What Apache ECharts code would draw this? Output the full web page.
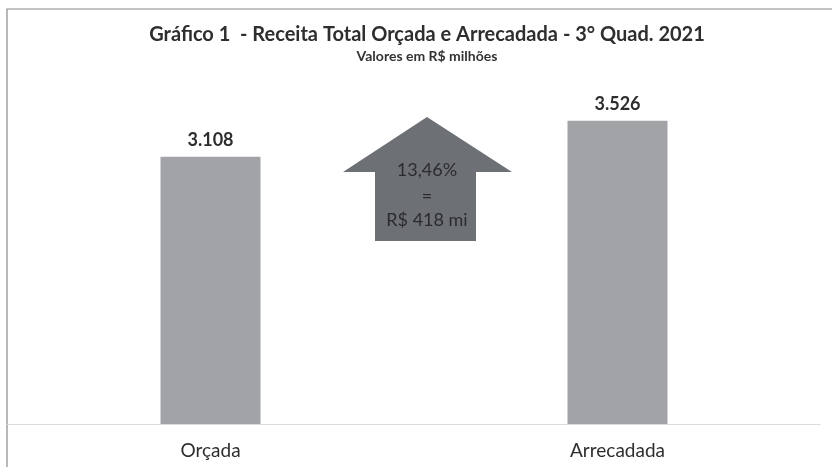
<!DOCTYPE html>
<html><head><meta charset="utf-8">
<script src="https://cdn.jsdelivr.net/npm/echarts@6/dist/echarts.min.js"></script>
<style>html,body{margin:0;padding:0;background:#fff}#c{width:832px;height:467px}</style>
</head><body><div id="c"></div>
<script>
const categories = ['Orçada', 'Arrecadada'];
const values = [3108, 3526];
const valueLabels = ['3.108', '3.526'];
const arrowText = ['13,46%', '=', 'R$ 418 mi'];

const chart = echarts.init(document.getElementById('c'));
const F = 'Lato, "Open Sans", sans-serif';
chart.setOption({
  animation: false,
  backgroundColor: '#fff',
  title: {
    text: 'Gráfico 1  - Receita Total Orçada e Arrecadada - 3° Quad. 2021',
    subtext: 'Valores em R$ milhões',
    left: 422, top: 20, textAlign: 'center', itemGap: 4,
    textStyle: { fontFamily: F, fontSize: 20, fontWeight: 'bold', color: '#2e2e2e' },
    subtextStyle: { fontFamily: F, fontSize: 14, fontWeight: 'bold', color: '#333' }
  },
  grid: { left: 7, right: 11, top: 80, bottom: 43 },
  xAxis: {
    type: 'category', data: categories,
    axisLine: { lineStyle: { color: '#d4d4d4', type: 'dotted', width: 1 } },
    axisTick: { show: false },
    axisLabel: { fontFamily: F, fontSize: 19, color: '#2e2e2e', margin: 17 }
  },
  yAxis: { type: 'value', min: 0, max: 4000, show: false, splitLine: { show: false } },
  series: [{
    type: 'bar', data: values, barWidth: 100,
    itemStyle: { color: '#a2a3a7' },
    label: {
      show: true, position: 'top', distance: 8,
      formatter: p => valueLabels[p.dataIndex],
      fontFamily: F, fontSize: 18, fontWeight: 'bold', color: '#2e2e2e'
    }
  }],
  graphic: [
    { type: 'polyline', shape: { points: [[7, 467], [7, 9], [832, 9]] }, style: { stroke: '#8a8a8a', lineWidth: 1.2, fill: null } },
    { type: 'polygon', shape: { points: [[427, 117], [512, 172], [476, 172], [476, 241], [375, 241], [375, 172], [343, 172]] },
      style: { fill: '#6d7074' } },
    { type: 'text', x: 427, y: 170, style: { text: arrowText[0], fontFamily: F, fontSize: 18, fill: '#2a2c2e', align: 'center', verticalAlign: 'middle' } },
    { type: 'text', x: 427, y: 196, style: { text: arrowText[1], fontFamily: F, fontSize: 18, fill: '#2a2c2e', align: 'center', verticalAlign: 'middle' } },
    { type: 'text', x: 427, y: 220, style: { text: arrowText[2], fontFamily: F, fontSize: 18, fill: '#2a2c2e', align: 'center', verticalAlign: 'middle' } }
  ]
});
</script></body></html>
